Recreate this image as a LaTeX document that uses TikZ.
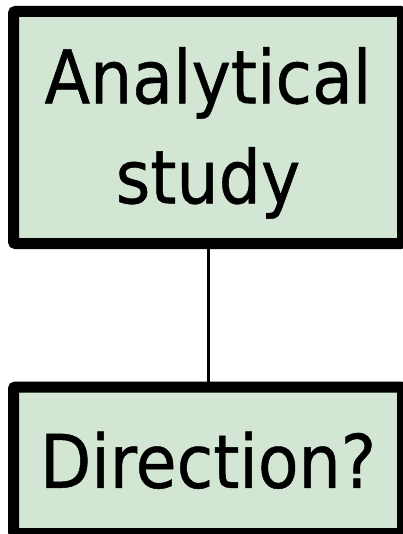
\documentclass[tikz,border=0pt]{standalone}
\usepackage{fontspec}
\newfontfamily\boxfont[FakeBold=0.6]{DejaVu Sans Condensed}
\usetikzlibrary{positioning}
\definecolor{boxgreen}{RGB}{211,230,212}

\begin{document}
\begin{tikzpicture}[x=1pt,y=1pt,
stage/.style={rectangle,draw=black,fill=boxgreen,line width=11pt,rounded corners=2pt,inner sep=0pt,outer sep=0pt,minimum width=389pt,align=center,font=\boxfont\fontsize{74}{100}\selectfont},
link/.style={draw=black,line width=3pt}]
\useasboundingbox (0,0) rectangle (403,-534);

\node (analytical) [stage, minimum height=232pt] at (208,-127.5) {\rule{0pt}{67pt}Analytical\\study};
\node (direction) [stage, minimum height=146.5pt, below=143.5pt of analytical] {Direction?};

\draw [link] (analytical) -- (direction);
\end{tikzpicture}
\end{document}
